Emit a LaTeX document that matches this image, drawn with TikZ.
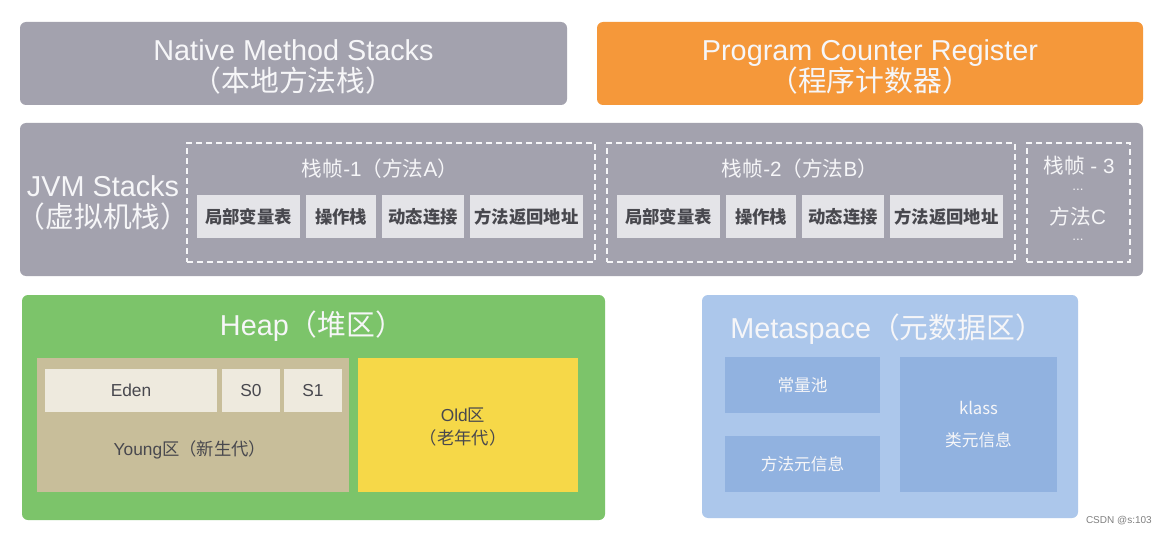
\documentclass[tikz,border=0pt]{standalone}
\usepackage{fontspec}
\setmainfont{Liberation Sans}
\newfontfamily\cjk{Noto Sans CJK SC}
\definecolor{stackgray}{RGB}{163,162,174}
\definecolor{pcorange}{RGB}{245,152,58}
\definecolor{cellgray}{RGB}{228,228,232}
\definecolor{celltext}{RGB}{72,72,78}
\definecolor{heapgreen}{RGB}{124,196,106}
\definecolor{younggold}{RGB}{200,190,154}
\definecolor{edenlight}{RGB}{238,234,222}
\definecolor{oldyellow}{RGB}{246,216,72}
\definecolor{metablue}{RGB}{172,199,235}
\definecolor{metacellblue}{RGB}{145,178,224}
\definecolor{softwhite}{RGB}{246,246,248}

\begin{document}
\begin{tikzpicture}[x=0.75pt,y=-0.75pt,
        boxsize/.style 2 args={minimum width=#1*0.75pt, minimum height=#2*0.75pt},
        area/.style={inner sep=0pt, rounded corners=4.5pt},
        bigtext/.style={inner sep=0pt, text=softwhite, align=center, font=\fontsize{21.6}{23}\selectfont},
        framebox/.style={inner sep=0pt, draw=softwhite, line width=0.9pt, dash pattern=on 4.5pt off 3pt},
        frametext/.style={inner sep=0pt, text=softwhite, font=\fontsize{15.5}{17}\selectfont},
        dots/.style={inner sep=0pt, text=softwhite, font=\fontsize{10}{10}\selectfont},
        cell/.style={inner sep=0pt, fill=cellgray, text=celltext, font=\cjk\bfseries\fontsize{13}{14}\selectfont},
        heapcell/.style={inner sep=0pt, text=celltext, align=center, font=\fontsize{13}{17}\selectfont},
        metacell/.style={inner sep=0pt, fill=metacellblue, text=softwhite, align=center, font=\cjk\fontsize{12.5}{24}\selectfont}]
        \path[fill=white, use as bounding box] (0,0) rectangle (1168,535);
        % top row
        \node (native) [area, fill=stackgray, boxsize={547}{83}] at (293.5,63.5) {};
        \node (nativename) [bigtext] at (293.5,67) {Native Method Stacks\\{\cjk （本地方法栈）}};
        \node (pcreg) [area, fill=pcorange, boxsize={546}{83}] at (870,63.5) {};
        \node (pcregname) [bigtext] at (870,67) {Program Counter Register\\{\cjk （程序计数器）}};
        % jvm stacks
        \node (jvm) [area, fill=stackgray, boxsize={1123}{153}] at (581.5,199.5) {};
        \node (jvmname) [bigtext] at (103,203) {JVM Stacks\\{\cjk （虚拟机栈）}};
        \node (frame1) [framebox, boxsize={408}{119}] at (391,202.5) {};
        \node (frame1title) [frametext] at (380,169) {{\cjk 栈帧}-1{\cjk （方法}A{\cjk ）}};
        \node (f1vars) [cell, boxsize={103}{43}] at (248.5,216.5) {局部变量表};
        \node (f1ops) [cell, boxsize={70}{43}] at (341,216.5) {操作栈};
        \node (f1link) [cell, boxsize={82}{43}] at (423,216.5) {动态连接};
        \node (f1ret) [cell, boxsize={113}{43}] at (526.5,216.5) {方法返回地址};
        \node (frame2) [framebox, boxsize={408}{119}] at (811,202.5) {};
        \node (frame2title) [frametext] at (800,169) {{\cjk 栈帧}-2{\cjk （方法}B{\cjk ）}};
        \node (f2vars) [cell, boxsize={103}{43}] at (668.5,216.5) {局部变量表};
        \node (f2ops) [cell, boxsize={70}{43}] at (761,216.5) {操作栈};
        \node (f2link) [cell, boxsize={82}{43}] at (843,216.5) {动态连接};
        \node (f2ret) [cell, boxsize={113}{43}] at (946.5,216.5) {方法返回地址};
        \node (frame3) [framebox, boxsize={103}{119}] at (1078.5,202.5) {};
        \node (frame3title) [frametext] at (1079,166) {{\cjk 栈帧} - 3};
        \node (frame3dots) [dots] at (1078,190) {...};
        \node (frame3name) [frametext] at (1078,217) {{\cjk 方法}C};
        \node (frame3end) [dots] at (1078,240) {...};
        % heap
        \node (heap) [area, fill=heapgreen, boxsize={583}{225}] at (313.5,407.5) {};
        \node (heaptitle) [bigtext] at (312,326) {Heap{\cjk （堆区）}};
        \node (young) [inner sep=0pt, fill=younggold, boxsize={312}{134}] at (193,425) {};
        \node (eden) [heapcell, fill=edenlight, boxsize={172}{43}] at (131,390.5) {Eden};
        \node (s0) [heapcell, fill=edenlight, boxsize={58}{43}] at (251,390.5) {S0};
        \node (s1) [heapcell, fill=edenlight, boxsize={58}{43}] at (313,390.5) {S1};
        \node (youngname) [heapcell] at (190,450) {Young{\cjk 区（新生代）}};
        \node (old) [inner sep=0pt, fill=oldyellow, boxsize={220}{134}] at (468,425) {};
        \node (oldname) [heapcell] at (463,427) {Old{\cjk 区}\\{\cjk （老年代）}};
        % metaspace
        \node (meta) [area, fill=metablue, boxsize={376}{223}] at (890,406.5) {};
        \node (metatitle) [bigtext, anchor=west] at (730,329) {Metaspace{\cjk （元数据区）}};
        \node (constpool) [metacell, boxsize={155}{56}] at (802.5,385) {常量池};
        \node (methodmeta) [metacell, boxsize={155}{56}] at (802.5,464) {方法元信息};
        \node (klass) [metacell, boxsize={157}{135}] at (978.5,424.5) {klass\\类元信息};
        \node (mark) [inner sep=0pt, anchor=east, text=gray, font=\fontsize{7.5}{8}\selectfont] at (1152,521) {CSDN @s:103};
\end{tikzpicture}
\end{document}
